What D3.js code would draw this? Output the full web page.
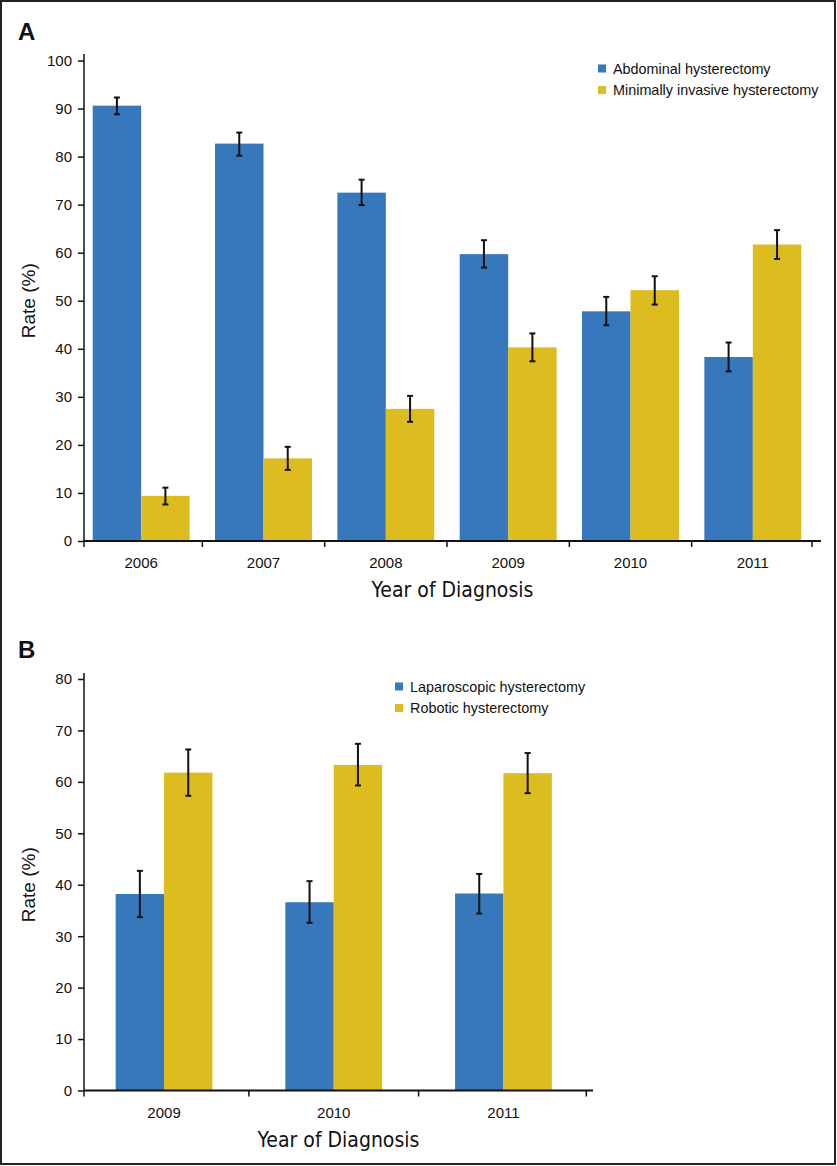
<!DOCTYPE html>
<html>
<head>
  <meta charset="utf-8">
  <title>Hysterectomy rates by year of diagnosis</title>
  <script src="https://cdnjs.cloudflare.com/ajax/libs/d3/7.8.5/d3.min.js"></script>
  <style>
    body { margin: 0; background: #fff; }
    svg text { font-family: "Liberation Sans", Arial, Helvetica, sans-serif; fill: #111; }
    svg text.ttl { font-family: "Liberation Sans Narrow", "Arial Narrow", "DejaVu Sans Condensed", sans-serif; }
  </style>
</head>
<body>
<div id="chart"></div>
<script>
// ---- panel A data ----
var yearsA = ["2006", "2007", "2008", "2009", "2010", "2011"];
var seriesA = ["Abdominal hysterectomy", "Minimally invasive hysterectomy"];
var abdominal = [90.6, 82.7, 72.5, 59.7, 47.8, 38.3];
var abdominalLo = [88.8, 80.2, 69.9, 56.9, 44.9, 35.3];
var abdominalHi = [92.3, 85.0, 75.2, 62.6, 50.8, 41.3];
var minimal = [9.4, 17.2, 27.5, 40.3, 52.2, 61.7];
var minimalLo = [7.6, 14.8, 24.8, 37.4, 49.2, 58.7];
var minimalHi = [11.1, 19.6, 30.2, 43.2, 55.1, 64.7];
var ticksA = [0, 10, 20, 30, 40, 50, 60, 70, 80, 90, 100];

// ---- panel B data ----
var yearsB = ["2009", "2010", "2011"];
var seriesB = ["Laparoscopic hysterectomy", "Robotic hysterectomy"];
var laparoscopic = [38.2, 36.6, 38.3];
var laparoscopicLo = [33.7, 32.6, 34.4];
var laparoscopicHi = [42.7, 40.7, 42.1];
var robotic = [61.8, 63.3, 61.7];
var roboticLo = [57.3, 59.3, 57.8];
var roboticHi = [66.3, 67.4, 65.6];
var ticksB = [0, 10, 20, 30, 40, 50, 60, 70, 80];

var colors = ["#3777bc", "#dcbc1f"];

var svg = d3.select("#chart").append("svg")
    .attr("width", 837)
    .attr("height", 1166);

// outer frame
svg.append("rect")
    .attr("x", 1).attr("y", 1)
    .attr("width", 834).attr("height", 1163)
    .attr("fill", "none")
    .attr("stroke", "#222")
    .attr("stroke-width", 2);

function panel(opt) {
    var g = svg.append("g");

    var x0 = d3.scaleBand().domain(opt.years).range(opt.xRange).padding(0);
    var x1 = d3.scaleBand().domain([0, 1]).range([0, x0.bandwidth()])
        .paddingInner(0).paddingOuter(opt.outer);
    var y = d3.scaleLinear().domain(opt.yDomain).range(opt.yRange);

    var rows = opt.years.map(function (yr, i) {
        return opt.series.map(function (s, k) {
            return { year: yr, k: k, v: opt.values[k][i], lo: opt.lo[k][i], hi: opt.hi[k][i] };
        });
    });

    // bars
    g.append("g").selectAll("g")
        .data(rows)
        .enter().append("g")
        .attr("transform", function (d, i) { return "translate(" + x0(opt.years[i]) + ",0)"; })
        .selectAll("rect")
        .data(function (d) { return d; })
        .enter().append("rect")
        .attr("x", function (d) { return x1(d.k); })
        .attr("width", x1.bandwidth())
        .attr("y", function (d) { return y(d.v); })
        .attr("height", function (d) { return y(0) - y(d.v); })
        .attr("fill", function (d) { return colors[d.k]; });

    // error bars
    var flat = [].concat.apply([], rows);
    var eb = g.append("g").attr("stroke", "#111").attr("stroke-width", 2).attr("fill", "none");
    flat.forEach(function (d) {
        var cx = x0(d.year) + x1(d.k) + x1.bandwidth() / 2;
        eb.append("line").attr("x1", cx).attr("x2", cx).attr("y1", y(d.lo)).attr("y2", y(d.hi));
        eb.append("line").attr("x1", cx - 3).attr("x2", cx + 3).attr("y1", y(d.lo)).attr("y2", y(d.lo));
        eb.append("line").attr("x1", cx - 3).attr("x2", cx + 3).attr("y1", y(d.hi)).attr("y2", y(d.hi));
    });

    // y axis
    var yAxis = g.append("g")
        .attr("transform", "translate(" + opt.axisX + ",0)")
        .call(d3.axisLeft(y).tickValues(opt.ticks).tickSize(6).tickPadding(6));
    yAxis.select(".domain").remove();
    yAxis.selectAll(".tick line").attr("stroke", "#111").attr("stroke-width", 1.5);
    yAxis.selectAll("text").attr("font-size", 15).attr("fill", "#111");
    g.append("line")
        .attr("x1", opt.axisX).attr("x2", opt.axisX)
        .attr("y1", opt.axisTop).attr("y2", y(0))
        .attr("stroke", "#111").attr("stroke-width", 1.5);

    // x axis
    g.append("line")
        .attr("x1", opt.axisX).attr("x2", opt.axisEnd)
        .attr("y1", y(0)).attr("y2", y(0))
        .attr("stroke", "#111").attr("stroke-width", 1.8);
    var bounds = opt.years.slice(1).map(function (yr) { return x0(yr); });
    bounds.unshift(opt.axisX);
    bounds.push(x0.range()[1] - 2);
    g.append("g").selectAll("line")
        .data(bounds)
        .enter().append("line")
        .attr("x1", function (d) { return d; }).attr("x2", function (d) { return d; })
        .attr("y1", y(0)).attr("y2", y(0) + 6)
        .attr("stroke", "#111").attr("stroke-width", 1.5);
    g.append("g").selectAll("text")
        .data(opt.years)
        .enter().append("text")
        .attr("x", function (d) { return x0(d) + x0.bandwidth() / 2; })
        .attr("y", y(0) + 27)
        .attr("text-anchor", "middle")
        .attr("font-size", 15)
        .text(function (d) { return d; });

    g.append("text")
        .attr("class", "ttl")
        .attr("x", (opt.axisX + opt.axisEnd) / 2)
        .attr("y", y(0) + 56)
        .attr("text-anchor", "middle")
        .attr("font-size", 21)
        .text("Year of Diagnosis");

    var ymid = (y.range()[0] + y.range()[1]) / 2;
    g.append("text")
        .attr("transform", "translate(35," + ymid + ") rotate(-90)")
        .attr("text-anchor", "middle")
        .attr("font-size", 19)
        .text("Rate (%)");

    g.append("text")
        .attr("x", 18).attr("y", opt.labelY)
        .attr("font-size", 24)
        .attr("font-weight", "bold")
        .text(opt.label);

    // legend
    var lg = g.append("g");
    opt.series.forEach(function (s, k) {
        var ly = opt.legendY + k * 21.5;
        lg.append("rect")
            .attr("x", opt.legendX).attr("y", ly - 4)
            .attr("width", 8).attr("height", 8)
            .attr("fill", colors[k]);
        lg.append("text")
            .attr("x", opt.legendX + 15).attr("y", ly + 5)
            .attr("font-size", 14.4)
            .text(s);
    });
}

panel({
    label: "A", labelY: 40,
    years: yearsA, series: seriesA,
    values: [abdominal, minimal], lo: [abdominalLo, minimalLo], hi: [abdominalHi, minimalHi],
    ticks: ticksA, yDomain: [0, 100], yRange: [541, 60.5],
    xRange: [80, 814], outer: 0.262,
    axisX: 84, axisTop: 54, axisEnd: 821,
    legendX: 598, legendY: 68.5
});

panel({
    label: "B", labelY: 658,
    years: yearsB, series: seriesB,
    values: [laparoscopic, robotic], lo: [laparoscopicLo, roboticLo], hi: [laparoscopicHi, roboticHi],
    ticks: ticksB, yDomain: [0, 80], yRange: [1090.5, 679],
    xRange: [79.2, 588.3], outer: 0.753,
    axisX: 84, axisTop: 673, axisEnd: 593,
    legendX: 395, legendY: 686.5
});
</script>
</body>
</html>
